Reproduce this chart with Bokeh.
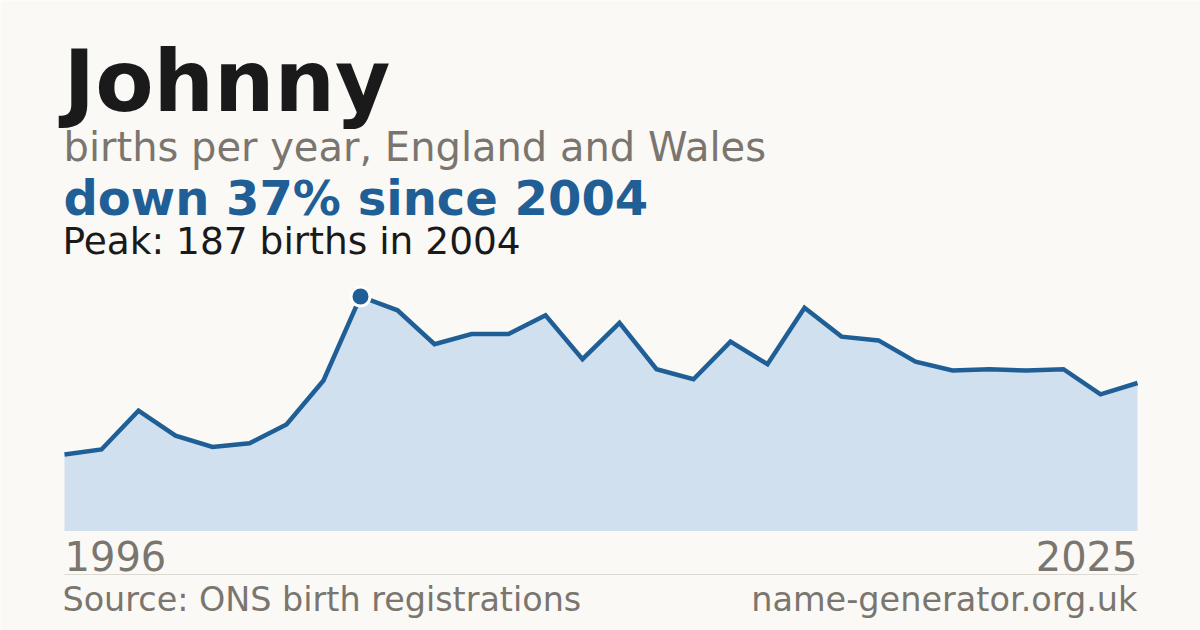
from bokeh.plotting import figure
from bokeh.models import Label, Range1d
from bokeh.embed import file_html
from bokeh.resources import INLINE

# ---- data ----
name = "Johnny"
years = list(range(1996, 2026))
births = [61, 65, 96, 76, 67, 70, 85, 120, 187, 176,
          149, 157, 157, 172, 137, 166, 129, 121, 151, 133,
          178, 155, 152, 135, 128, 129, 128, 129, 109, 118]
tick_labels = ["1996", "2025"]
subtitle = "births per year, England and Wales"
source_text = "Source: ONS birth registrations"
site_text = "name-generator.org.uk"

peak_val = max(births)
peak_year = years[births.index(peak_val)]
pct = round((1 - births[-1] / peak_val) * 100)

# ---- layout constants (pixels from top-left of figure) ----
W, H = 1200, 630
LEFT_PX, RIGHT_PX = 64, 1137
BASE_PX, PEAK_PX = 530.5, 296.0
SEP_PX = 574
px_per_year = (RIGHT_PX - LEFT_PX) / (years[-1] - years[0])
px_per_unit = (BASE_PX - PEAK_PX) / peak_val

BG = "#faf9f5"
BLUE = "#1f5f96"
FILL = "#d0e0ef"
DARK = "#1a1a1a"
GREY = "#7a766f"
FONT = "DejaVu Sans"
K = 0.4  # baseline compensation factor

p = figure(width=W, height=H, output_backend="svg", toolbar_location=None,
           min_border=0, min_border_left=0, min_border_right=0,
           min_border_top=0, min_border_bottom=0)
p.x_range = Range1d(years[0] - LEFT_PX / px_per_year,
                    years[-1] + (W - RIGHT_PX) / px_per_year)
p.y_range = Range1d(-(H - BASE_PX) / px_per_unit, BASE_PX / px_per_unit)
p.axis.visible = False
p.xgrid.visible = False
p.ygrid.visible = False
p.outline_line_color = None
p.background_fill_color = BG
p.border_fill_color = BG

p.varea(x=years, y1=[0] * len(years), y2=births, fill_color=FILL)
p.line(x=years, y=births, line_color=BLUE, line_width=4.5, line_join="miter")
p.scatter(x=[peak_year], y=[peak_val], size=19, fill_color=BLUE,
          line_color="white", line_width=3)

# separator line
sep_y = (BASE_PX - SEP_PX) / px_per_unit
p.segment(x0=[years[0]], x1=[years[-1]], y0=[sep_y], y1=[sep_y],
          line_color="#dcd9d2", line_width=1)


def lab(text, x, baseline_px, size, color, bold=False, align="left", x_units="screen"):
    p.add_layout(Label(text=text, x=x, y=H - baseline_px + K * size,
                       x_units=x_units, y_units="screen",
                       text_font=FONT, text_font_size=f"{size}px",
                       text_font_style="bold" if bold else "normal",
                       text_color=color, text_align=align,
                       text_baseline="alphabetic"))


lab(name, LEFT_PX - 1, 114.5, 85, DARK, bold=True)
lab(subtitle, LEFT_PX - 1, 162, 40, GREY)
lab(f"down {pct}% since {peak_year}", LEFT_PX - 1, 217, 48, BLUE, bold=True)
lab(f"Peak: {peak_val} births in {peak_year}", LEFT_PX - 2, 255.5, 37.5, DARK)
lab(tick_labels[0], years[0], 571, 40, GREY, align="left", x_units="data")
lab(tick_labels[1], years[-1], 571, 40, GREY, align="right", x_units="data")
lab(source_text, LEFT_PX - 2, 612, 33.4, GREY)
lab(site_text, RIGHT_PX, 612, 33.5, GREY, align="right")

open("out.html", "w").write(file_html(p, INLINE))
